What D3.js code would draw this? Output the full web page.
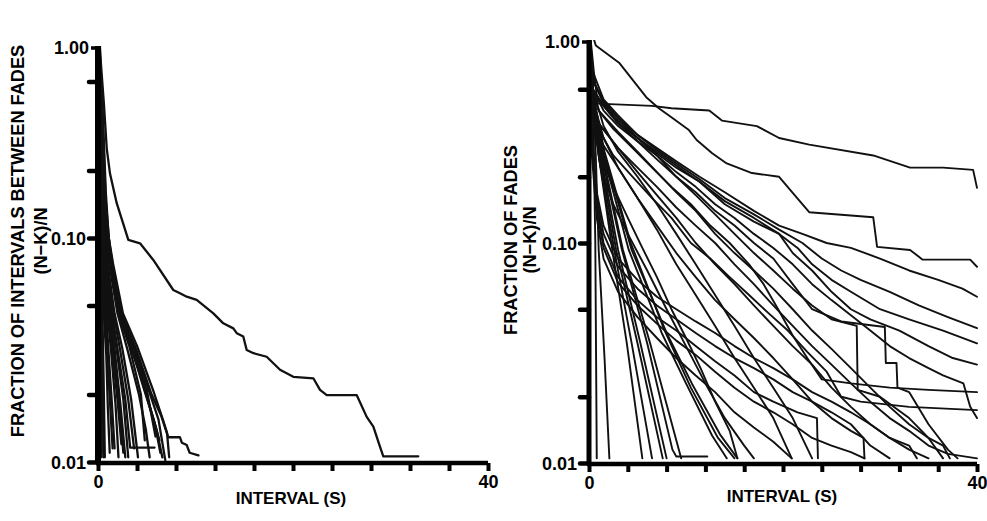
<!DOCTYPE html>
<html><head><meta charset="utf-8">
<script src="https://cdn.jsdelivr.net/npm/d3@7"></script>
<style>body{margin:0;background:#fff}svg{display:block}</style>
</head><body>
<svg id="chart" width="987" height="521"></svg>
<script>
// ---------- axis / tick data ----------
const xTickValues = [0,4,8,12,16,20,24,28,32,36,40];
const xTickLabels = {0:"0",40:"40"};
const yTickValues = [0.5,0.2,0.1,0.05,0.02,0.01];
const yTickLabels = {0.1:"0.10",0.01:"0.01"};
const yTopLabel = "1.00";
const xTitle = "INTERVAL (S)";
const leftYTitle = ["FRACTION OF INTERVALS BETWEEN FADES","(N\u2212K)/N"];
const rightYTitle = ["FRACTION OF FADES","(N\u2212K)/N"];

// ---------- left panel series: [interval (s), (N-K)/N] ----------
const L01 = [[0,1],[0.3,0.6],[0.6,0.4],[0.9,0.25],[1.23,0.194],[1.92,0.143],[3.11,0.098],[4.31,0.0947],[5.67,0.0798],[7.72,0.0586],[8.41,0.0567],[9.1,0.0547],[10.12,0.0529],[11.83,0.0461],[12.85,0.0416],[13.88,0.0395],[14.23,0.0376],[14.9,0.0363],[15.25,0.0316],[15.95,0.0306],[17.3,0.0295],[18.67,0.0258],[20.03,0.024],[22.1,0.0236],[22.77,0.021],[23.46,0.0199],[26.53,0.0199],[27.56,0.0159],[28.24,0.0144],[28.92,0.0117],[29.26,0.0106],[32.85,0.0106]];
const L02 = [[0,1],[0.05,0.3],[0.08,0.12],[0.11,0.07],[0.14,0.04],[0.16,0.025],[0.18,0.015],[0.2,0.0105]];
const L03 = [[0,1],[0.1,0.3],[0.15,0.12],[0.2,0.07],[0.24,0.045],[0.28,0.03],[0.31,0.018],[0.35,0.011]];
const L04 = [[0,1],[0.15,0.3],[0.25,0.12],[0.35,0.075],[0.45,0.045],[0.53,0.03],[0.6,0.02],[0.7,0.0105]];
const L05 = [[0,1],[0.2,0.3],[0.3,0.12],[0.45,0.07],[0.65,0.042],[0.85,0.03],[1.0,0.018],[1.2,0.011]];
const L06 = [[0,1],[0.22,0.3],[0.35,0.12],[0.55,0.075],[0.85,0.045],[1.1,0.03],[1.4,0.019],[1.7,0.0115]];
const L07 = [[0,1],[0.25,0.3],[0.4,0.12],[0.65,0.075],[1.0,0.045],[1.35,0.031],[1.8,0.018],[2.1,0.0105]];
const L08 = [[0,1],[0.27,0.3],[0.45,0.12],[0.75,0.075],[1.15,0.045],[1.6,0.031],[2.2,0.018],[2.6,0.011]];
const L09 = [[0,1],[0.3,0.3],[0.5,0.12],[0.85,0.075],[1.35,0.046],[1.9,0.032],[2.6,0.019],[3.1,0.0105]];
const L10 = [[0,1],[0.32,0.3],[0.52,0.12],[0.9,0.075],[1.45,0.046],[2.0,0.032],[2.8,0.019],[3.3,0.0116],[5.8,0.0116]];
const L11 = [[0,1],[0.35,0.3],[0.55,0.12],[1.0,0.076],[1.7,0.046],[2.5,0.032],[3.4,0.019],[4.1,0.0105]];
const L12 = [[0,1],[0.38,0.3],[0.6,0.12],[1.15,0.077],[2.0,0.046],[3.0,0.032],[4.2,0.02],[4.9,0.014],[5.3,0.0105]];
const L13 = [[0,1],[0.4,0.3],[0.65,0.123],[1.3,0.077],[2.2,0.046],[3.4,0.033],[4.8,0.021],[5.8,0.015],[6.4,0.011]];
const L14 = [[0,1],[0.42,0.3],[0.7,0.124],[1.45,0.077],[2.4,0.046],[3.7,0.033],[5.2,0.021],[6.2,0.0155],[6.9,0.0102]];
const L15 = [[0,1],[0.45,0.3],[0.75,0.124],[1.54,0.077],[2.56,0.046],[4.0,0.033],[5.64,0.021],[6.67,0.0154],[7.08,0.0135],[7.3,0.0105]];
const L16 = [[0,1],[0.44,0.3],[0.72,0.12],[1.5,0.076],[2.5,0.045],[3.9,0.032],[5.5,0.02],[6.5,0.016],[7.2,0.0129],[8.4,0.0129],[8.6,0.0122],[9.1,0.0119],[9.4,0.011],[10.3,0.0107]];
const L17 = [[0,1],[0.1,0.15],[0.3,0.04],[0.32,0.0105]];
const L18 = [[0,1],[0.18,0.3],[0.28,0.12],[0.45,0.07],[0.7,0.045],[0.95,0.03],[1.25,0.018],[1.5,0.0115]];
const L19 = [[0,1],[0.26,0.3],[0.42,0.12],[0.7,0.075],[1.1,0.045],[1.5,0.03],[2.0,0.019],[2.4,0.012]];
const L20 = [[0,1],[0.33,0.3],[0.53,0.12],[0.95,0.076],[1.6,0.046],[2.25,0.032],[3.1,0.019],[3.7,0.0115]];
const L21 = [[0,1],[0.37,0.3],[0.6,0.12],[1.2,0.077],[2.1,0.046],[3.2,0.033],[4.4,0.02],[4.8,0.0125]];
const L22 = [[0,1],[0.4,0.3],[0.66,0.12],[1.35,0.077],[2.3,0.046],[3.6,0.033],[5.0,0.021],[5.9,0.013]];
const L23 = [[0,1],[0.5,0.35],[0.8,0.16],[1.1,0.1],[1.8,0.06],[2.9,0.037],[4.3,0.025],[5.6,0.016],[6.3,0.0125]];
const L24 = [[0,1],[0.48,0.33],[0.78,0.15],[1.2,0.09],[2.0,0.055],[3.2,0.035],[4.6,0.022],[6.0,0.014],[6.6,0.0105]];
const L25 = [[0,1],[0.12,0.3],[0.2,0.12],[0.3,0.07],[0.4,0.04],[0.5,0.025],[0.55,0.0105]];
const L26 = [[0,1],[0.3,0.3],[0.47,0.12],[0.8,0.075],[1.25,0.046],[1.7,0.032],[2.3,0.018],[2.8,0.0105]];
const leftSeries = [L01,L02,L03,L04,L05,L06,L07,L08,L09,L10,L11,L12,L13,L14,L15,L16,L17,L18,L19,L20,L21,L22,L23,L24,L25,L26];

// ---------- right panel series ----------
const R01 = [[0,1],[0.5,0.6],[0.9,0.43],[6.5,0.42],[8.5,0.41],[12.4,0.40],[13.7,0.36],[17.3,0.34],[19.6,0.30],[22.7,0.28],[29.3,0.25],[33.1,0.22],[36.5,0.22],[39.6,0.215],[40,0.178]];
const R02 = [[0,1],[0.7,0.79],[3.1,0.66],[5.9,0.46],[7.2,0.41],[8.6,0.37],[10.3,0.326],[11.1,0.294],[12.7,0.256],[14.2,0.23],[16.8,0.208],[19.6,0.2],[21.2,0.165],[22.7,0.138],[29.3,0.131],[29.7,0.096],[33.1,0.093],[34.4,0.084],[39.3,0.084],[40,0.078]];
const R03 = [[0,1],[0.4,0.6],[1.5,0.45],[3,0.38],[5,0.31],[7,0.27],[9,0.235],[11.4,0.2],[14,0.17],[17,0.14],[19.6,0.12],[22,0.11],[24.5,0.1],[27,0.095],[30,0.085],[33,0.075],[36,0.068],[38.5,0.062],[40,0.057]];
const R04 = [[0,1],[0.4,0.55],[1.5,0.44],[3,0.37],[5,0.31],[7,0.265],[9,0.23],[11.4,0.195],[14,0.16],[17,0.135],[19.6,0.115],[22,0.1],[24,0.085],[26,0.075],[28,0.068],[31,0.06],[34,0.052],[37,0.046],[40,0.041]];
const R05 = [[0,1],[0.4,0.55],[1.5,0.43],[3,0.36],[5,0.3],[7,0.26],[9,0.225],[11.4,0.19],[14,0.155],[17,0.13],[19.6,0.11],[21.5,0.095],[23,0.08],[25,0.068],[27,0.06],[30,0.05],[33,0.045],[36.5,0.04],[40,0.035]];
const R06 = [[0,1],[0.4,0.5],[1.5,0.42],[3,0.35],[5,0.3],[7,0.255],[9,0.22],[11.4,0.19],[14,0.15],[17,0.125],[19.6,0.11],[21,0.09],[23,0.075],[25,0.06],[27,0.05],[29,0.045],[32,0.04],[35,0.034],[37.5,0.03],[40,0.028]];
const R07 = [[0,1],[0.3,0.5],[1,0.4],[2.5,0.33],[4.5,0.27],[6.5,0.22],[8.5,0.18],[10.5,0.15],[12.5,0.12],[14.5,0.1],[16.5,0.08],[18,0.065],[19.5,0.05],[21,0.038],[22.5,0.03],[24,0.024],[27,0.023],[31,0.022],[35,0.0215],[40,0.021]];
const R08 = [[0,1],[0.3,0.45],[1,0.33],[2.5,0.25],[4.5,0.2],[6.5,0.16],[8.5,0.13],[10.5,0.1],[12.5,0.085],[14.5,0.07],[16.5,0.058],[18.5,0.048],[20.5,0.04],[22.5,0.032],[24.5,0.026],[26,0.02],[28,0.019],[33,0.018],[40,0.0174]];
const R09 = [[0,1],[0.4,0.5],[1.5,0.4],[3,0.34],[5,0.29],[7,0.25],[9,0.21],[11,0.18],[13,0.15],[15,0.13],[17,0.11],[19,0.095],[21,0.08],[23,0.065],[25,0.055],[27,0.047],[29,0.04],[31,0.034],[33,0.03],[35,0.027],[36.5,0.025],[38.6,0.023],[39.3,0.018],[40,0.016]];
const R10 = [[0,1],[0.4,0.55],[1.5,0.44],[3,0.37],[5,0.3],[7,0.25],[9,0.2],[11,0.165],[13,0.135],[15,0.11],[17,0.09],[19,0.075],[21,0.062],[23,0.052],[25,0.045],[27.6,0.042],[27.7,0.0215],[30,0.02],[33,0.016],[35,0.013],[36.5,0.0105]];
const R11 = [[0,1],[0.3,0.5],[1,0.4],[3,0.32],[5,0.26],[7,0.21],[9,0.17],[11,0.14],[13,0.11],[15,0.09],[17,0.075],[19,0.062],[21,0.05],[23,0.04],[25,0.033],[27,0.027],[29,0.022],[31,0.018],[33,0.015],[35,0.013],[36.5,0.012],[37.2,0.0105]];
const R12 = [[0,1],[0.3,0.45],[1,0.35],[3,0.27],[5,0.21],[7,0.165],[9,0.13],[11,0.1],[13,0.08],[15,0.065],[17,0.052],[19,0.042],[21,0.034],[23,0.028],[25,0.022],[27,0.018],[29,0.015],[31,0.013],[33,0.012],[33.8,0.0105]];
const R13 = [[0,1],[0.4,0.5],[1.5,0.42],[3,0.35],[5,0.29],[7,0.24],[9,0.2],[11,0.17],[13,0.14],[15,0.12],[17,0.1],[19,0.085],[21,0.065],[23,0.05],[26,0.044],[30.5,0.0415],[30.6,0.0285],[31.7,0.0285],[31.8,0.022],[33,0.021],[35,0.015],[37,0.0115],[38,0.0105]];
const R14 = [[0,1],[0.3,0.4],[1,0.3],[3,0.22],[5,0.16],[7,0.12],[9,0.09],[11,0.07],[13,0.055],[15,0.045],[17,0.037],[19,0.03],[21,0.024],[23,0.019],[25,0.016],[27,0.014],[28.3,0.013],[28.4,0.0105]];
const R15 = [[0,1],[0.3,0.45],[1,0.35],[3,0.27],[5,0.22],[7,0.18],[9,0.145],[11,0.12],[13,0.1],[15,0.08],[17,0.065],[19,0.052],[21,0.042],[23,0.034],[25,0.028],[27,0.023],[29,0.019],[31,0.016],[33,0.014],[35,0.012],[37,0.011],[40,0.0105]];
const R16 = [[0,1],[0.3,0.3],[0.8,0.15],[1.5,0.1],[3,0.07],[5,0.055],[7,0.046],[9,0.04],[11,0.034],[13,0.029],[15,0.025],[17,0.021],[19,0.019],[21.5,0.017],[23.5,0.016],[23.6,0.0105]];
const R17 = [[0,1],[0.3,0.25],[0.8,0.13],[1.5,0.085],[3,0.06],[5,0.046],[7,0.037],[9,0.03],[11,0.025],[13,0.021],[15,0.017],[17,0.0145],[19,0.0125],[20.9,0.0105]];
const R18 = [[0,1],[0.3,0.3],[0.8,0.16],[1.5,0.11],[3,0.078],[5,0.062],[7,0.052],[9,0.045],[11,0.039],[13,0.034],[15,0.03],[17,0.027],[19,0.024],[21,0.021],[23,0.019],[25,0.017],[27,0.015],[29,0.012],[31,0.0105]];
const R19 = [[0,1],[0.3,0.32],[0.8,0.17],[1.5,0.12],[3,0.085],[5,0.068],[7,0.057],[9,0.05],[11,0.044],[13,0.039],[15,0.034],[17,0.03],[19,0.027],[21,0.024],[23,0.021],[25,0.019],[27,0.017],[29,0.015],[31,0.013],[33,0.0115],[35,0.0105]];
const R20 = [[0,1],[0.3,0.28],[0.8,0.14],[1.5,0.095],[3,0.066],[5,0.052],[7,0.043],[9,0.036],[11,0.031],[13,0.026],[15,0.022],[17,0.019],[19,0.017],[21,0.015],[23,0.013],[25,0.012],[27,0.0112],[28.4,0.0105]];
const R21 = [[0,1],[0.3,0.5],[1.6,0.26],[4.3,0.1],[7.8,0.04],[10.5,0.022],[13.3,0.013],[15,0.0105]];
const R22 = [[0,1],[0.3,0.5],[1.5,0.25],[4.1,0.093],[7.5,0.039],[10,0.023],[12.7,0.0133],[14.2,0.0105]];
const R23 = [[0,1],[0.3,0.5],[1.6,0.25],[4.4,0.093],[8,0.039],[10.6,0.023],[13.5,0.0135],[15.3,0.0105]];
const R24 = [[0,1],[0.4,0.5],[0.65,0.1],[0.8,0.0105]];
const R25 = [[0,1],[0.4,0.5],[0.7,0.25],[1.0,0.093],[1.6,0.03],[2.1,0.0105]];
const R26 = [[0,1],[0.3,0.5],[1.0,0.25],[2.4,0.093],[3.9,0.035],[5.5,0.0105]];
const R27 = [[0,1],[0.3,0.5],[1.1,0.25],[2.8,0.093],[5.0,0.035],[7.6,0.0105]];
const R28 = [[0,1],[0.3,0.5],[1.3,0.25],[3.4,0.093],[6.0,0.035],[8.6,0.0115],[9,0.0107],[12.2,0.0107]];
const R29 = [[0,1],[0.3,0.5],[1.2,0.25],[3.0,0.093],[5.3,0.035],[8.0,0.0105]];
const R30 = [[0,1],[0.3,0.5],[1.0,0.25],[2.6,0.093],[4.4,0.035],[6.5,0.0105]];
const R31 = [[0,1],[0.3,0.5],[1.4,0.25],[3.5,0.093],[6.3,0.035],[9.5,0.0105]];
const R32 = [[0,1],[0.3,0.4],[1.2,0.22],[2.5,0.15],[4,0.11],[6,0.075],[8,0.05],[10,0.034],[12,0.023],[14,0.016],[16,0.012],[17,0.0105]];
const R33 = [[0,1],[0.4,0.4],[1.2,0.25],[2.5,0.18],[4,0.13],[5.5,0.095],[7,0.07],[8.5,0.05],[10,0.037],[11.5,0.027],[13,0.019],[14.5,0.014],[15.3,0.0105]];
const R34 = [[0,1],[0.4,0.45],[1.5,0.3],[3,0.22],[5,0.16],[7,0.115],[9,0.08],[11,0.058],[13,0.042],[15,0.03],[17,0.022],[19,0.016],[20.9,0.0105]];
const R35 = [[0,1],[0.4,0.5],[1.5,0.34],[3,0.26],[5,0.2],[7,0.15],[9,0.11],[11,0.08],[13,0.058],[15,0.042],[17,0.03],[19,0.022],[21,0.016],[23,0.0105]];
const rightSeries = [R01,R02,R03,R04,R05,R06,R07,R08,R09,R10,R11,R12,R13,R14,R15,R16,R17,R18,R19,R20,R21,R22,R23,R24,R25,R26,R27,R28,R29,R30,R31,R32,R33,R34,R35];

// ---------- layout ----------
const FONT = "'Liberation Sans', Arial, Helvetica, sans-serif";
const panels = [
  {key:"L", series:leftSeries, titles:leftYTitle, xLeft:98, xRight:488, yBottom:462, yDecade:224, axisTop:46,
   title1X:17, title2X:40, titleY:241, xTitleX:291, xTitleY:504, lineW:2.3, axisW:6},
  {key:"R", series:rightSeries, titles:rightYTitle, xLeft:589, xRight:977, yBottom:463, yDecade:220, axisTop:40,
   title1X:510, title2X:529, titleY:240, xTitleX:782, xTitleY:502, lineW:1.9, axisW:5}
];

const svg = d3.select("#chart");
svg.append("rect").attr("width",987).attr("height",521).attr("fill","#fff");

panels.forEach(p => {
  const x = d3.scaleLinear().domain([0,40]).range([p.xLeft, p.xRight]);
  const y = d3.scaleLog().domain([0.01,1]).range([p.yBottom, p.yBottom - 2*p.yDecade]);
  const g = svg.append("g");

  const clipId = "clip" + p.key;
  svg.append("clipPath").attr("id", clipId).append("rect")
    .attr("x", p.xLeft).attr("y", p.axisTop)
    .attr("width", p.xRight - p.xLeft + 2).attr("height", p.yBottom - p.axisTop + 1);

  const line = d3.line().x(d => x(d[0])).y(d => y(d[1])).curve(d3.curveLinear);
  g.append("g").attr("clip-path", `url(#${clipId})`)
    .selectAll("path").data(p.series).join("path")
    .attr("d", line).attr("fill","none").attr("stroke","#111")
    .attr("stroke-width", p.lineW).attr("stroke-linejoin","round").attr("stroke-linecap","round");

  // y axis
  const yAxis = d3.axisLeft(y).tickValues(yTickValues).tickSize(9).tickPadding(3)
    .tickFormat(d => yTickLabels[d] || "");
  const ya = g.append("g").attr("transform", `translate(${p.xLeft},0)`).call(yAxis);
  ya.select(".domain").remove();
  ya.selectAll(".tick line").attr("stroke","#000").attr("stroke-width",4.5).attr("stroke-linecap","round");
  ya.selectAll(".tick text").attr("font-family",FONT).attr("font-size","18px").attr("font-weight","bold").attr("fill","#000").attr("dy","0.36em");
  const topVal = y.invert(p.axisTop);
  g.append("line").attr("x1",p.xLeft).attr("x2",p.xLeft).attr("y1",y(0.01)+2).attr("y2",y(topVal))
    .attr("stroke","#000").attr("stroke-width",p.axisW);
  g.append("line").attr("x1",p.xLeft-7).attr("x2",p.xLeft).attr("y1",y(topVal)+2).attr("y2",y(topVal)+2)
    .attr("stroke","#000").attr("stroke-width",3.5);
  g.append("text").attr("x",p.xLeft-9).attr("y",y(topVal)+2).attr("dy","0.36em").attr("text-anchor","end")
    .attr("font-family",FONT).attr("font-size","18px").attr("font-weight","bold").text(yTopLabel);

  // x axis
  const xAxis = d3.axisBottom(x).tickValues(xTickValues).tickSize(8).tickPadding(4)
    .tickFormat(d => xTickLabels[d] || "");
  const xa = g.append("g").attr("transform", `translate(0,${p.yBottom+1})`).call(xAxis);
  xa.select(".domain").attr("stroke","#000").attr("stroke-width",4.5).attr("d",`M${p.xLeft-2},0H${p.xRight}`);
  xa.selectAll(".tick line").attr("stroke","#000").attr("stroke-width",4);
  xa.selectAll(".tick text").attr("font-family",FONT).attr("font-size","18px").attr("font-weight","bold").attr("fill","#000");

  // titles
  g.append("text").attr("x", p.xTitleX).attr("y", p.xTitleY).attr("text-anchor","middle")
    .attr("font-family",FONT).attr("font-size","17px").attr("font-weight","bold").text(xTitle);
  g.append("text").attr("transform",`translate(${p.title1X},${p.titleY}) rotate(-90)`).attr("dy","0.36em")
    .attr("text-anchor","middle").attr("font-family",FONT).attr("font-size","18.2px").attr("font-weight","bold").text(p.titles[0]);
  g.append("text").attr("transform",`translate(${p.title2X},${p.titleY}) rotate(-90)`).attr("dy","0.36em")
    .attr("text-anchor","middle").attr("font-family",FONT).attr("font-size","18.2px").attr("font-weight","bold").text(p.titles[1]);
});
</script>
</body></html>
